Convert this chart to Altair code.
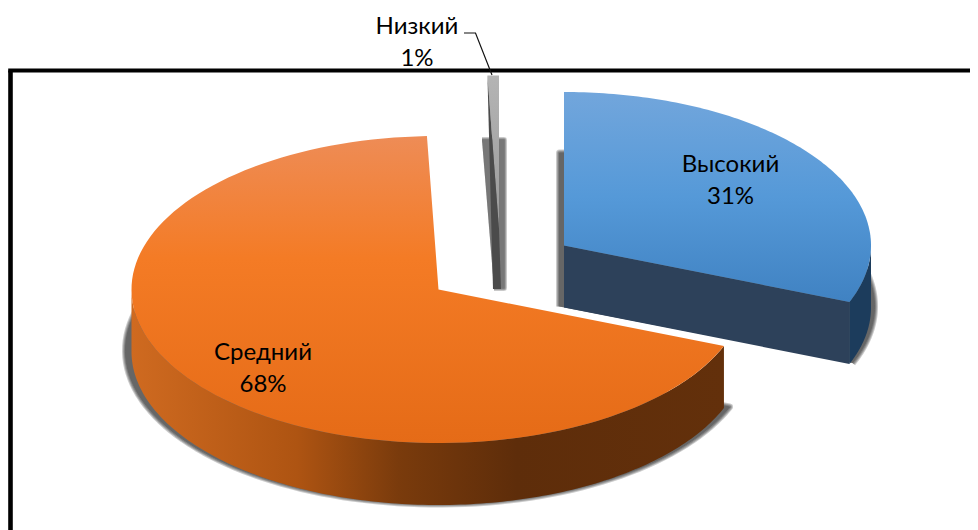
import math
import altair as alt
import pandas as pd

NAMES = ["Высокий", "Средний", "Низкий"]
SHARES = [31.0, 68.4, 0.6]
LABELS = ["31%", "68%", "1%"]

RX, RY, DEPTH = 307, 153.5, 62
FONT = "Lato"
W, H = 962, 522
X_SCALE = alt.Scale(domain=[8, 970], nice=False, zero=False)
Y_SCALE = alt.Scale(domain=[8, 530], nice=False, zero=False, reverse=True)


def grad(stops, horizontal=False):
    return alt.LinearGradient(
        gradient="linear",
        stops=[alt.GradientStop(offset=o, color=c) for o, c in stops],
        x1=0, y1=0, x2=1 if horizontal else 0, y2=0 if horizontal else 1,
    )


def pt(c, deg, dy=0):
    a = math.radians(deg)
    return (c[0] + RX * math.sin(a), c[1] - RY * math.cos(a) + dy)


def arc(c, a0, a1, dy=0, n=120):
    return [pt(c, a0 + (a1 - a0) * i / n, dy) for i in range(n + 1)]


def poly(points, **mark):
    df = pd.DataFrame(points, columns=["x", "y"])
    df["i"] = range(len(df))
    return alt.Chart(df).mark_line(filled=True, clip=True, **mark).encode(
        x=alt.X("x:Q", scale=X_SCALE, axis=None),
        y=alt.Y("y:Q", scale=Y_SCALE, axis=None),
        order=alt.Order("i:Q"),
    )


def shadow(points, dx=0.0, dy=0.0, cx=None, kx=1.0, widths=(7, 5, 3, 1), opacity=0.2):
    pts = []
    for x, y in points:
        nx = x if cx is None else cx + (x - cx) * kx
        pts.append((nx + dx, y + dy))
    return [
        poly(pts, fill="#000000", stroke="#000000", strokeWidth=w, opacity=opacity,
             strokeJoin="round")
        for w in widths
    ]


ends = [sum(SHARES[: i + 1]) * 3.6 for i in range(3)]
blue_a = (0, ends[0])
orange_a = (ends[0], ends[1])
grey_a = (ends[1], ends[2])

C_BLUE = (564, 245.5)
C_ORANGE = (438.5, 289.5)
C_GREY = (499, 229)

layers = []

layers.append(alt.Chart(pd.DataFrame({"x": [10.5], "y": [70.5], "y2": [530]})).mark_rule(
    color="#000000", strokeWidth=4.6).encode(
    x=alt.X("x:Q", scale=X_SCALE, axis=None),
    y=alt.Y("y:Q", scale=Y_SCALE, axis=None), y2="y2:Q"))
layers.append(alt.Chart(pd.DataFrame({"x": [8.2], "x2": [970], "y": [70.5]})).mark_rule(
    color="#000000", strokeWidth=4.2).encode(
    x=alt.X("x:Q", scale=X_SCALE, axis=None), x2="x2:Q",
    y=alt.Y("y:Q", scale=Y_SCALE, axis=None)))

blue_top = [C_BLUE] + arc(C_BLUE, *blue_a)
orange_top = [C_ORANGE] + arc(C_ORANGE, *orange_a)
grey_top = [C_GREY] + arc(C_GREY, *grey_a, n=4)

layers += shadow([(x, y + DEPTH) for x, y in blue_top], dx=-4.5, dy=-1, cx=C_BLUE[0], kx=1 + 8 / RX)
layers += shadow([(x, y + DEPTH) for x, y in orange_top], dx=0, dy=-1, cx=C_ORANGE[0], kx=1 + 6 / RX)
grey_shadow = [(482, 140), (504, 140), (504, 288), (494, 288)]
layers += shadow(grey_shadow, widths=(6, 4.5, 3, 1.5), opacity=0.17)

g_out = arc(C_GREY, *grey_a, n=4)
layers.append(poly(grey_top, fill=grad([(0, "#B4B4B4"), (1, "#9A9A9A")])))
layers.append(poly([g_out[0], C_GREY, (501, 289), (493, 289)], fill="#4B4B4B"))

b_end = pt(C_BLUE, blue_a[1])
layers.append(poly([C_BLUE, b_end, (b_end[0], b_end[1] + DEPTH),
                    (C_BLUE[0], C_BLUE[1] + DEPTH)], fill="#2D415A"))
wall = arc(C_BLUE, 90, blue_a[1], n=40)
layers.append(poly(wall + [(x, y + DEPTH) for x, y in reversed(wall)], fill="#1C3C5C"))
layers.append(poly(blue_top, fill=grad([(0, "#72A6DC"), (0.5, "#5599D8"), (1, "#4082C2")])))

wall = arc(C_ORANGE, orange_a[0], 270, n=160)
wall_fill = grad([(0, "#CF6A20"), (0.28, "#AE5412"), (0.45, "#7A3B0C"), (0.65, "#5E2D0A"), (1, "#63300B")],
                 horizontal=True)
layers.append(poly(wall + [(x, y + DEPTH) for x, y in reversed(wall)], fill=wall_fill))
layers.append(poly(orange_top, fill=grad([(0, "#EE8C56"), (0.4, "#F47B25"), (1, "#E56B17")])))

leader = pd.DataFrame({"x": [464, 475.5, 492], "y": [33, 33, 75], "i": [0, 1, 2]})
layers.append(alt.Chart(leader).mark_line(color="#111111", strokeWidth=1.2).encode(
    x=alt.X("x:Q", scale=X_SCALE, axis=None),
    y=alt.Y("y:Q", scale=Y_SCALE, axis=None), order="i:Q"))

lab = pd.DataFrame({
    "x": [730.5, 263, 417, 730.5, 263, 417],
    "y": [172, 360, 34, 204, 392, 66],
    "t": NAMES + LABELS,
})
layers.append(alt.Chart(lab).mark_text(font=FONT, fontSize=24, color="#000000",
                                       align="center", baseline="alphabetic").encode(
    x=alt.X("x:Q", scale=X_SCALE, axis=None),
    y=alt.Y("y:Q", scale=Y_SCALE, axis=None), text="t:N"))

chart = alt.layer(*layers).properties(
    width=W, height=H, padding=0, background="#ffffff",
    autosize=alt.AutoSizeParams(type="none"),
).configure_view(stroke=None)

chart.save("out.html", embed_options={"renderer": "svg", "actions": False})
